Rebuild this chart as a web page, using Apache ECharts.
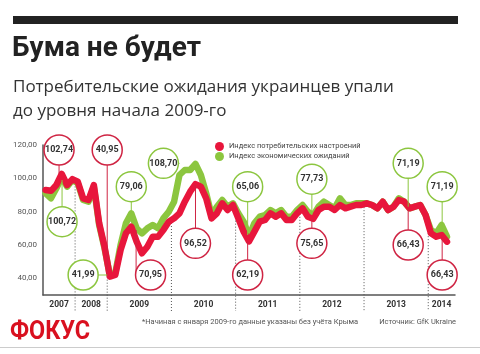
<!DOCTYPE html>
<html>
<head>
<meta charset="utf-8">
<script src="https://cdn.jsdelivr.net/npm/echarts@6/dist/echarts.min.js"></script>
<style>
html,body{margin:0;padding:0;background:#fff;}
#chart{width:480px;height:354px;}
</style>
</head>
<body>
<div id="chart"></div>
<script>
// годы и границы (в месяцах/точках) по оси X
var years = ['2007', '2008', '2009', '2010', '2011', '2012', '2013', '2014'];
var yearStarts = [0, 6, 12, 24, 36, 48, 60, 72, 77];

// Индекс потребительских настроений
var consumer = [
	93, 92.5, 96, 102.7, 96, 99.5,
	98, 88, 87, 96, 73, 59,
	41, 42, 57, 67, 71, 62, 55, 59, 65, 65, 69, 74,
	76, 79, 86, 92, 96.5, 95, 88, 76, 79, 85, 81, 84,
	76, 68, 62.2, 68, 74, 75, 79, 77, 79, 75, 75, 79,
	82, 77, 75.7, 81, 83, 83, 81, 84, 82, 83, 84, 84,
	85, 84, 82, 86, 81, 83, 87, 86, 82, 83, 84, 78,
	67, 65, 66, 62
];

// Индекс экономических ожиданий
var economic = [
	91, 88, 94, 100.7, 95, 99,
	97, 87, 86, 95, 72, 58,
	42, 43, 60, 73, 79, 70, 67, 70, 72, 70, 76, 80,
	86, 102, 105, 105, 108.7, 102, 91, 78, 83, 87, 83, 85,
	79, 74, 65, 73, 77, 78, 81, 79, 81, 77, 77, 81,
	84, 80, 77.7, 83, 86, 84, 82, 88, 84, 84, 85, 85,
	85, 84, 82, 86, 81, 83, 88, 86, 82, 83, 84, 78,
	69, 67, 72, 65
];

var yTicks = [40, 60, 80, 100, 120];

// выноски: текст, серия, центр кружка и точка привязки (в единицах осей)
var callouts = [
	{t: '102,74', s: 'r', x: 3, y: 117, ax: 3, ay: 102.7},
	{t: '100,72', s: 'g', x: 3.56, y: 74, ax: 3.56, ay: 99},
	{t: '40,95', s: 'r', x: 12, y: 117, ax: 12, ay: 41},
	{t: '41,99', s: 'g', x: 7.5, y: 42, ax: 12, ay: 42},
	{t: '79,06', s: 'g', x: 16.5, y: 95, ax: 16.5, ay: 79},
	{t: '70,95', s: 'r', x: 20.1, y: 42, ax: 17.4, ay: 69},
	{t: '108,70', s: 'g', x: 22.5, y: 109, ax: 25.5, ay: 109},
	{t: '96,52', s: 'r', x: 28.5, y: 61, ax: 28.5, ay: 96},
	{t: '65,06', s: 'g', x: 38.25, y: 95, ax: 38.25, ay: 66},
	{t: '62,19', s: 'r', x: 38.25, y: 42, ax: 38.25, ay: 62},
	{t: '77,73', s: 'g', x: 50.25, y: 99.5, ax: 50.25, ay: 78},
	{t: '75,65', s: 'r', x: 50.25, y: 61, ax: 50.25, ay: 75.5},
	{t: '71,19', s: 'g', x: 68.25, y: 109, ax: 68.25, ay: 83},
	{t: '66,43', s: 'r', x: 68.25, y: 60, ax: 68.25, ay: 82},
	{t: '71,19', s: 'g', x: 74.6, y: 95, ax: 74.6, ay: 70},
	{t: '66,43', s: 'r', x: 74.6, y: 42, ax: 74.6, ay: 64}
];

var RED = '#e8163c';
var GREEN = '#8cc63f';
var RED_RING = '#cf2443';
var yMin = 30;

var chart = echarts.init(document.getElementById('chart'));

function toPairs(arr) {
	return arr.map(function (v, i) { return [i + 0.5, v]; });
}

var separators = [];
for (var k = 1; k < yearStarts.length - 1; k++) {
	var b = yearStarts[k];
	separators.push([b, (consumer[b - 1] + consumer[b]) / 2]);
}

var option = {
	animation: false,
	backgroundColor: '#fff',
	grid: {left: 43, right: 25, top: 145, bottom: 59},
	legend: {
		orient: 'vertical',
		left: 210,
		top: 137,
		itemWidth: 9,
		itemHeight: 9,
		itemGap: 1,
		icon: 'circle',
		data: ['Индекс потребительских настроений', 'Индекс экономических ожиданий'],
		textStyle: {fontSize: 7.5, color: '#444', fontFamily: 'Roboto'}
	},
	xAxis: {
		type: 'value',
		min: 0,
		max: 77,
		interval: 0.5,
		splitLine: {show: false},
		axisTick: {show: false},
		axisLine: {show: true, lineStyle: {color: '#555', width: 1.5}},
		axisLabel: {
			margin: 5,
			fontSize: 8.5,
			fontWeight: 'bold',
			color: '#333',
			fontFamily: 'Roboto',
			formatter: function (v) {
				for (var i = 0; i < years.length; i++) {
					var mid = (yearStarts[i] + yearStarts[i + 1]) / 2;
					if (Math.abs(v - mid) < 1e-6) return years[i];
				}
				return '';
			}
		}
	},
	yAxis: {
		type: 'value',
		min: yMin,
		max: 120,
		interval: 10,
		splitLine: {show: false},
		axisTick: {show: false},
		axisLine: {show: true, lineStyle: {color: '#555', width: 1.5}},
		axisLabel: {
			margin: 6,
			fontSize: 8,
			color: '#555',
			fontFamily: 'Roboto',
			formatter: function (v) {
				return yTicks.indexOf(v) >= 0 ? v.toFixed(2).replace('.', ',') : '';
			}
		}
	},
	series: [
		{
			type: 'custom',
			z: 1,
			silent: true,
			data: separators,
			renderItem: function (params, api) {
				var top = api.coord([api.value(0), api.value(1)]);
				var bot = api.coord([api.value(0), yMin]);
				return {
					type: 'line',
					shape: {x1: top[0], y1: top[1], x2: bot[0], y2: bot[1] + 16},
					style: {stroke: '#555', lineWidth: 1, lineDash: [1, 2]}
				};
			}
		},
		{
			name: 'Индекс экономических ожиданий',
			type: 'line',
			z: 2,
			showSymbol: false,
			itemStyle: {color: GREEN},
			lineStyle: {color: GREEN, width: 6.5, cap: 'round', join: 'round'},
			data: toPairs(economic)
		},
		{
			name: 'Индекс потребительских настроений',
			type: 'line',
			z: 3,
			showSymbol: false,
			itemStyle: {color: RED},
			lineStyle: {color: RED, width: 6.5, cap: 'round', join: 'round'},
			data: toPairs(consumer)
		},
		{
			type: 'custom',
			z: 5,
			silent: true,
			data: callouts.map(function (c) { return [c.x, c.y]; }),
			renderItem: function (params, api) {
				var c = callouts[params.dataIndex];
				var p = api.coord([c.x, c.y]);
				var a = api.coord([c.ax, c.ay]);
				var col = c.s === 'r' ? RED_RING : GREEN;
				return {
					type: 'group',
					children: [
						{type: 'polyline', shape: {points: [p, [a[0], p[1]], a]},
							style: {stroke: col, lineWidth: 1, fill: null}},
						{type: 'circle', shape: {cx: p[0], cy: p[1], r: 15},
							style: {fill: '#fff', stroke: col, lineWidth: 1.5}},
						{type: 'text', x: p[0], y: p[1],
							style: {text: c.t, align: 'center', verticalAlign: 'middle',
								font: 'bold 9px Roboto', fill: '#333'}}
					]
				};
			}
		}
	],
	graphic: [
		{type: 'rect', left: 13, top: 16, shape: {width: 445, height: 8}, style: {fill: '#222'}},
		{type: 'text', left: 12, top: 35, style: {text: 'Бума не будет',
			font: 'bold 28px Roboto', fill: '#222'}},
		{type: 'text', left: 13, top: 79, style: {text: 'Потребительские ожидания украинцев упали',
			font: '17px "Open Sans"', fill: '#333'}},
		{type: 'text', left: 13, top: 103, style: {text: 'до уровня начала 2009-го',
			font: '17px "Open Sans"', fill: '#333'}},
		{type: 'text', x: 10, y: 319, scaleX: 0.9, style: {text: 'ФОКУС',
			font: 'bold 26px Roboto', fill: '#d9101f'}},
		{type: 'text', left: 142, top: 318, style: {text: '*Начиная с января 2009-го данные указаны без учёта Крыма',
			font: '7.5px Roboto', fill: '#555'}},
		{type: 'text', right: 24, top: 318, style: {text: 'Источник: GfK Ukraine',
			font: '7.5px Roboto', fill: '#555'}},
		{type: 'rect', left: 0, top: 347, shape: {width: 480, height: 1}, style: {fill: '#ccc'}}
	]
};

chart.setOption(option);
</script>
</body>
</html>
